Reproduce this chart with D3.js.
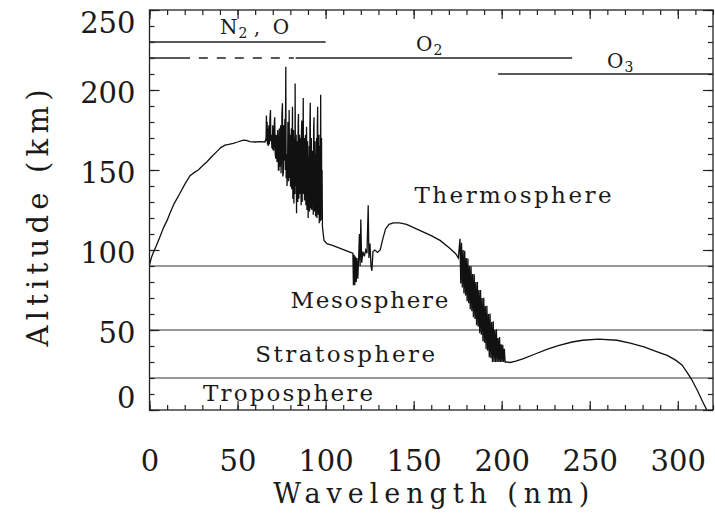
<!DOCTYPE html>
<html>
<head>
<meta charset="utf-8">
<script src="https://cdn.jsdelivr.net/npm/d3@7/dist/d3.min.js"></script>
<style>
  html, body { margin: 0; padding: 0; background: #fff; }
  svg { display: block; }
  text { font-family: 'DejaVu Serif', 'Liberation Serif', serif; fill: #1a1a1a; }
</style>
</head>
<body>
<svg id="chart" width="715" height="515"></svg>
<script>
// --- data: wavelength (nm) -> altitude of unit optical depth (km)
const xTicks = [0, 50, 100, 150, 200, 250, 300]
const yTicks = [0, 50, 100, 150, 200, 250]

// EUV rise, N2/O continuum
const euvRise = [
  [0, 90.5], [1, 95], [2.2, 98.5], [4, 103], [6, 108.5], [8, 114], [10, 118.5],
  [11.6, 123], [14, 129], [17.3, 135.5], [20, 141], [23, 146.5], [25.5, 148.5],
  [27.7, 150], [30, 152.5], [32.5, 155], [35, 158], [38.2, 161.5], [40.5, 164],
  [42.9, 165.5], [45, 166], [47.6, 166.7], [50, 167.5], [53.3, 168.7], [55, 168.5],
  [57, 167.7], [60, 167.5], [62.7, 167.7], [65.6, 167.5]
]

// ionisation thresholds / band structure 66-100 nm
const euvBands = [
  [66.2, 170], [66.4, 184], [66.6, 168], [66.8, 180], [67, 166], [67.2, 176], [67.4, 165],
  [67.6, 172], [67.8, 178], [68, 166], [68.2, 170], [68.4, 182], [68.7, 187.5], [68.9, 168],
  [69.2, 172], [69.5, 164], [69.8, 163.5], [70, 178], [70.3, 175], [70.5, 162], [70.7, 168],
  [70.9, 180], [71.1, 183], [71.4, 160], [71.7, 157], [71.9, 172], [72.2, 170], [72.4, 155],
  [72.6, 160], [72.8, 175], [73, 168.7], [73.2, 150], [73.5, 150], [73.7, 176], [74, 152],
  [74.2, 172], [74.5, 178], [74.7, 148], [75, 160], [75.2, 185], [75.5, 191.7], [75.7, 146],
  [76, 148], [76.2, 178], [76.5, 156], [76.7, 170], [76.9, 182], [77.1, 150], [77.4, 214.6],
  [77.6, 145], [77.9, 160], [78.1, 140], [78.4, 150], [78.6, 180], [78.8, 175], [79, 143],
  [79.3, 187.5], [79.5, 145], [79.7, 150], [79.9, 172], [80.1, 139.6], [80.3, 168], [80.6, 176],
  [80.8, 138], [81, 165], [81.2, 189.6], [81.4, 132], [81.6, 145], [81.8, 175], [82, 129],
  [82.2, 160], [82.4, 170], [82.6, 135], [82.7, 204], [82.9, 140], [83.1, 150], [83.3, 172],
  [83.5, 123], [83.7, 160], [84, 168], [84.2, 130], [84.4, 178], [84.6, 185], [84.8, 132],
  [85, 140], [85.2, 172], [85.4, 135], [85.6, 165], [85.9, 170], [86.1, 128], [86.3, 174],
  [86.5, 181], [86.7, 130], [86.9, 160], [87.1, 140], [87.3, 195], [87.5, 135], [87.7, 150],
  [87.9, 170], [88, 131], [88.3, 165], [88.6, 172], [88.8, 128], [89, 160], [89.2, 177],
  [89.4, 125], [89.6, 135], [89.8, 168], [90.1, 120], [90.3, 158], [90.5, 130], [90.7, 165],
  [90.9, 124], [91.1, 178], [91.3, 192], [91.5, 126], [91.7, 140], [91.9, 170], [92.2, 125],
  [92.4, 162], [92.6, 128], [92.8, 160], [93, 122], [93.2, 175], [93.4, 183], [93.6, 124],
  [93.8, 140], [94, 168], [94.3, 121], [94.5, 160], [94.7, 125], [94.9, 170], [95.1, 120],
  [95.3, 178], [95.5, 189.6], [95.7, 122], [96, 135], [96.2, 172], [96.4, 116.7], [96.6, 160],
  [96.8, 165], [97, 118], [97.2, 197], [97.4, 125], [97.5, 140], [97.7, 170], [97.8, 118.7],
  [98, 150], [98.2, 115], [98.4, 112.5], [99.1, 106], [100.7, 104], [103.5, 103],
  [108.3, 101], [113, 99], [115.5, 98]
]

// Lyman alpha window and O2 continuum
const lymanRegion = [
  [115.8, 78], [116.2, 97], [116.6, 78], [117, 96], [117.4, 80], [117.8, 95], [118.3, 82],
  [118.8, 96], [119.2, 110], [119.6, 90], [120, 119], [120.5, 92], [121.2, 99], [122, 96],
  [122.8, 100], [123.5, 98], [124.2, 128], [124.6, 95], [125.2, 104], [125.8, 90], [126.3, 87],
  [126.9, 99], [128, 100], [129.5, 98.5], [131, 100], [132.5, 107], [134, 113], [136, 116],
  [138.5, 117], [142, 117], [146, 116], [150, 114], [155, 111.5], [160, 109], [165, 106],
  [170, 101.5], [174, 97.5], [175.4, 95]
]

// Schumann-Runge bands
const srBands = [
  [176.3, 107], [176.75, 79], [177.2, 104.5], [177.65, 76.5], [178.1, 100], [178.55, 73],
  [179, 99.6], [179.45, 71.6], [179.9, 95], [180.35, 68], [180.8, 94.7], [181.25, 66.7],
  [181.7, 90], [182.15, 63], [182.6, 89.8], [183.05, 61.8], [183.5, 85], [183.95, 58],
  [184.4, 84.9], [184.85, 56.9], [185.3, 80], [185.75, 53], [186.2, 80], [186.65, 52],
  [187.1, 75], [187.55, 48], [188, 75], [188.45, 47], [188.9, 70], [189.35, 43],
  [189.8, 70.1], [190.25, 42], [190.7, 65], [191.15, 38], [191.6, 65.2], [192.05, 37],
  [192.5, 60], [192.95, 33], [193.4, 60.3], [193.85, 32.3], [194.3, 55], [194.75, 30],
  [195.2, 55.4], [195.65, 30], [196.1, 50], [196.55, 30], [197, 50.5], [197.45, 30],
  [197.9, 45], [198.35, 30], [198.8, 45.6], [199.25, 30], [199.7, 41], [200.15, 30],
  [200.6, 40.7], [201.05, 30], [201.5, 38.3], [201.95, 30]
]

// Hartley band (O3)
const hartley = [
  [202.5, 30], [204.8, 29.7], [208, 30.5], [212, 32], [219, 35], [226, 38], [232.6, 40.4],
  [240, 42.5], [246, 43.6], [255, 44.3], [265.5, 43.6], [273, 41.8], [280.8, 39.4],
  [288, 36.5], [294.3, 34], [299, 31], [302.5, 28], [305, 24], [307.8, 19.2], [311, 12.5],
  [314, 5.5], [316.5, 0]
]

// atmospheric layer boundaries (km) and names
const layerBounds = [90, 50, 20]
const layerNames = ['Thermosphere', 'Mesosphere', 'Stratosphere', 'Troposphere']

// absorbers: name parts, altitude of bar (km), bar pieces [from nm, to nm, dashed]
const absorberNames = [['N', '2', ' , O'], ['O', '2', ''], ['O', '3', '']]
const absorberKm = [230, 220, 210]
const absorberPieces = [
  [[0, 100, false]],
  [[0, 23, false], [28, 82, true], [83, 240, false]],
  [[198, 320, false]]
]

// --- layout
const svg = d3.select('#chart')
const x = d3.scaleLinear().domain([0, 320]).range([149.5, 713])
const y = d3.scaleLinear().domain([0, 250]).range([410, 10])
const [x0, x1] = x.range()
const [y0, y1] = y.range()
const ink = '#222'

svg.append('defs').append('clipPath').attr('id', 'plot-clip')
  .append('rect').attr('x', x0).attr('y', y1).attr('width', x1 - x0).attr('height', y0 - y1)

// layer boundaries
svg.append('g').selectAll('line')
  .data(layerBounds)
  .join('line')
  .attr('x1', x0).attr('x2', x1)
  .attr('y1', d => y(d)).attr('y2', d => y(d))
  .attr('stroke', '#333').attr('stroke-width', 1.1)

// absorber bars
absorberPieces.forEach((pieces, i) => {
  pieces.forEach(([a, b, dashed]) => {
    svg.append('line')
      .attr('x1', x(a)).attr('x2', x(b))
      .attr('y1', y(absorberKm[i])).attr('y2', y(absorberKm[i]))
      .attr('stroke', '#222').attr('stroke-width', 1.6)
      .attr('stroke-dasharray', dashed ? '9,9' : null)
  })
})

// curve
const curve = [...euvRise, ...euvBands, ...lymanRegion, ...srBands, ...hartley]
const lineGen = d3.line().x(d => x(d[0])).y(d => y(d[1]))
svg.append('path')
  .datum(curve)
  .attr('clip-path', 'url(#plot-clip)')
  .attr('fill', 'none')
  .attr('stroke', '#111')
  .attr('stroke-width', 1.3)
  .attr('d', lineGen)

// axes: major + minor ticks on all four sides, pointing inwards
const minorX = d3.range(0, 321, 10)
const minorY = d3.range(0, 251, 10)
const styleAxis = g => {
  g.select('.domain').remove()
  g.selectAll('line').attr('stroke', ink).attr('stroke-width', 1.2)
}

svg.append('g').attr('transform', `translate(0,${y0})`)
  .call(d3.axisBottom(x).tickValues(minorX).tickSize(-5).tickFormat(''))
  .call(styleAxis)
svg.append('g').attr('transform', `translate(0,${y1})`)
  .call(d3.axisTop(x).tickValues(minorX).tickSize(-5).tickFormat(''))
  .call(styleAxis)
svg.append('g').attr('transform', `translate(${x0},0)`)
  .call(d3.axisLeft(y).tickValues(minorY).tickSize(-5).tickFormat(''))
  .call(styleAxis)
svg.append('g').attr('transform', `translate(${x1},0)`)
  .call(d3.axisRight(y).tickValues(minorY).tickSize(-5).tickFormat(''))
  .call(styleAxis)

const xAxis = svg.append('g').attr('transform', `translate(0,${y0})`)
  .call(d3.axisBottom(x).tickValues(xTicks).tickSize(-9).tickPadding(40))
  .call(styleAxis)
xAxis.selectAll('text').attr('font-size', 29).attr('fill', ink)
  .attr('font-family', "'DejaVu Serif', serif")

svg.append('g').attr('transform', `translate(0,${y1})`)
  .call(d3.axisTop(x).tickValues(xTicks).tickSize(-9).tickFormat(''))
  .call(styleAxis)

const yAxis = svg.append('g').attr('transform', `translate(${x0},0)`)
  .call(d3.axisLeft(y).tickValues(yTicks).tickSize(-10).tickPadding(14))
  .call(styleAxis)
yAxis.selectAll('text').attr('font-size', 29).attr('fill', ink)
  .attr('font-family', "'DejaVu Serif', serif")
  .attr('dy', d => d === 250 ? '0.78em' : d === 0 ? '-0.08em' : '0.42em')

svg.append('g').attr('transform', `translate(${x1},0)`)
  .call(d3.axisRight(y).tickValues(yTicks).tickSize(-10).tickFormat(''))
  .call(styleAxis)

// frame
svg.append('rect')
  .attr('x', x0).attr('y', y1).attr('width', x1 - x0).attr('height', y0 - y1)
  .attr('fill', 'none').attr('stroke', ink).attr('stroke-width', 1.3)

// layer names
const layerAt = [[150.5, 129.4], [80, 63.5], [60, 30], [30.4, 5.6]]
const layerWidth = [197, 158, 180, 170]
svg.append('g').selectAll('text')
  .data(layerNames)
  .join('text')
  .attr('x', (d, i) => x(layerAt[i][0]))
  .attr('y', (d, i) => y(layerAt[i][1]))
  .attr('font-size', 23)
  .attr('textLength', (d, i) => layerWidth[i])
  .attr('lengthAdjust', 'spacing')
  .text(d => d)

// absorber names
const absorberAt = [[40, 235], [151.4, 224.5], [259.8, 213.8]]
absorberNames.forEach(([base, sub, rest], i) => {
  const t = svg.append('text')
    .attr('x', x(absorberAt[i][0])).attr('y', y(absorberAt[i][1]))
    .attr('font-size', 20)
  t.append('tspan').text(base)
  t.append('tspan').attr('font-size', 14).attr('dy', 4).attr('dx', 1).text(sub)
  if (rest) t.append('tspan').attr('dy', -4).text('\u00a0,\u00a0\u00a0O')
})

// axis titles
svg.append('text')
  .attr('x', (x0 + x1) / 2)
  .attr('y', 503)
  .attr('text-anchor', 'middle')
  .attr('font-size', 27)
  .attr('textLength', 316)
  .attr('lengthAdjust', 'spacing')
  .text('Wavelength (nm)')

svg.append('text')
  .attr('transform', `translate(48,218) rotate(-90)`)
  .attr('text-anchor', 'middle')
  .attr('font-size', 29)
  .attr('textLength', 257)
  .attr('lengthAdjust', 'spacing')
  .text('Altitude (km)')
</script>
</body>
</html>
